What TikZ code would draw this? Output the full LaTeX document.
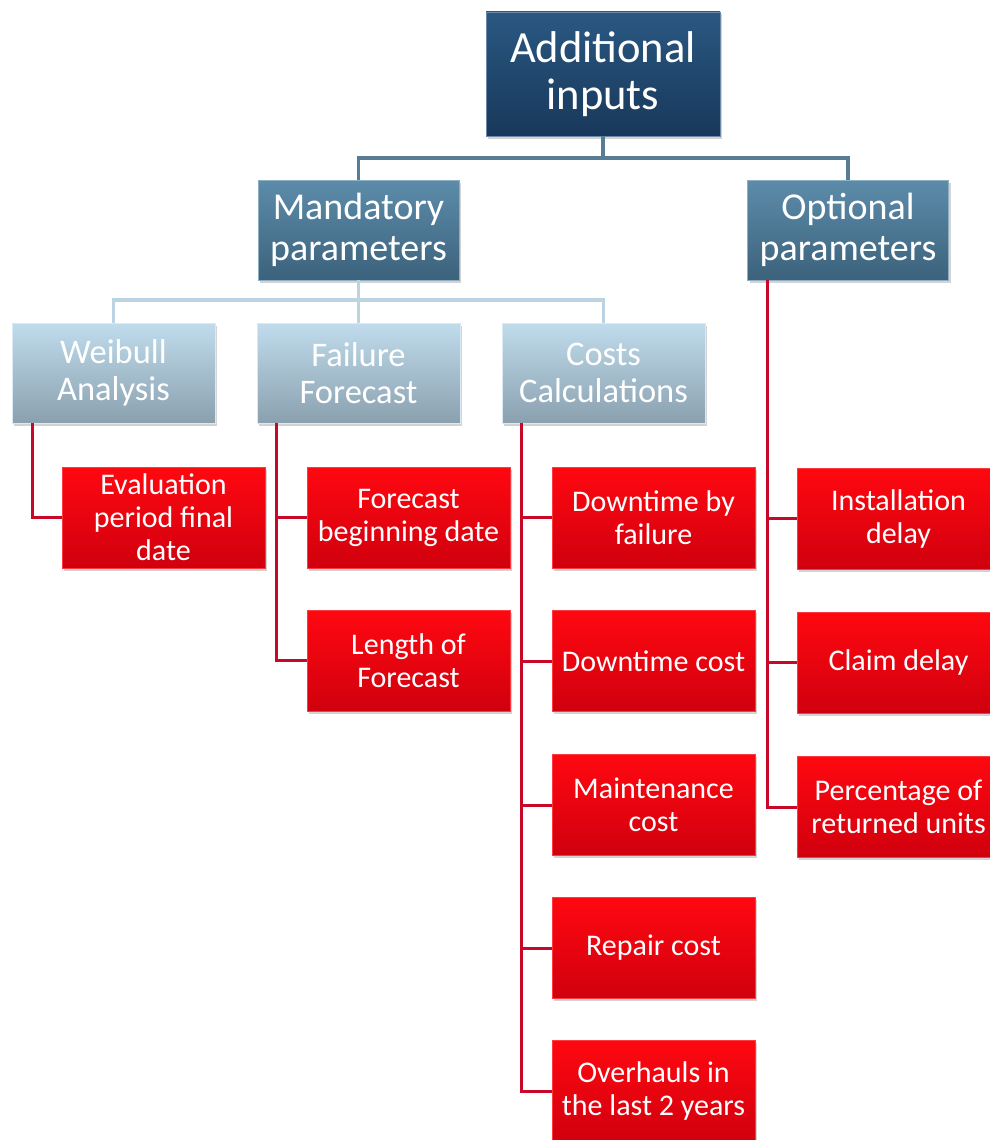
\documentclass[tikz,border=0pt]{standalone}
\usepackage{fontspec}
\setmainfont{Carlito}
\usetikzlibrary{shadows}
\definecolor{topA}{RGB}{42,88,130}
\definecolor{topB}{RGB}{24,56,90}
\definecolor{midA}{RGB}{92,140,170}
\definecolor{midB}{RGB}{60,98,124}
\definecolor{lowA}{RGB}{192,220,236}
\definecolor{lowB}{RGB}{138,160,175}
\definecolor{redA}{RGB}{255,8,16}
\definecolor{redM}{RGB}{245,0,14}
\definecolor{redB}{RGB}{208,0,14}
\definecolor{lnTop}{RGB}{88,124,148}
\definecolor{lnLow}{RGB}{188,212,226}
\definecolor{lnRed}{RGB}{200,8,40}
\tikzset{
  basebox/.style={rectangle, align=center, text=white, inner sep=0pt,
    drop shadow={shadow xshift=2pt, shadow yshift=-2.5pt, opacity=0.35}},
  topbox/.style={basebox, top color=topA, bottom color=topB, draw=topA!70!white, line width=0.8pt,
    minimum width=234pt, minimum height=124pt, font=\fontsize{44.5}{47}\selectfont},
  midbox/.style={basebox, top color=midA, bottom color=midB, draw=midA!70!white, line width=0.8pt,
    minimum width=201pt, minimum height=100pt, font=\fontsize{38}{41}\selectfont},
  lowbox/.style={basebox, top color=lowA, bottom color=lowB, draw=lowA!60!white, line width=0.8pt,
    minimum width=203pt, minimum height=100pt, font=\fontsize{34.5}{37}\selectfont},
  redbox/.style={basebox, top color=redA, middle color=redM, bottom color=redB, draw=redA!80!white, line width=0.6pt,
    minimum width=203pt, minimum height=101pt, font=\fontsize{30}{33}\selectfont},
  toplink/.style={draw=lnTop, line width=3.5pt},
  lowlink/.style={draw=lnLow, line width=3.5pt},
  redlink/.style={draw=lnRed, line width=3pt},
}
\begin{document}
\begin{tikzpicture}[x=1pt,y=-1pt]
\useasboundingbox (0,0) rectangle (990,1140);
\clip (0,0) rectangle (990,1140);
\coordinate (j1) at (603,158);
\coordinate (j2) at (358.5,300);
% nodes
\node[topbox] (top) at (603,74) {Additional\\inputs};
\node[midbox] (mand) at (358.5,230) {Mandatory\\parameters};
\node[midbox] (opt) at (848,230) {Optional\\parameters};
\node[lowbox] (weib) at (113.5,373) {Weibull\\Analysis};
\node[lowbox] (fail) at (358.5,373) {Failure\\Forecast};
\node[lowbox] (cost) at (603.5,373) {Costs\\Calculations};
\node[redbox] (eval) at (163.5,517.5) {Evaluation\\period final\\date};
\node[redbox] (fbeg) at (408.5,517.5) {Forecast\\beginning date};
\node[redbox] (flen) at (408.5,660.5) {Length of\\Forecast};
\node[redbox] (dfail) at (653.5,517.5) {Downtime by\\failure};
\node[redbox] (dcost) at (653.5,661) {Downtime cost};
\node[redbox] (mcost) at (653.5,805) {Maintenance\\cost};
\node[redbox] (rcost) at (653.5,948) {Repair cost};
\node[redbox] (over) at (653.5,1091) {Overhauls in\\the last 2 years};
\node[redbox] (inst) at (898.5,518.5) {Installation\\delay};
\node[redbox] (claim) at (898.5,662.5) {Claim delay};
\node[redbox] (perc) at (898.5,807) {Percentage of\\returned units};
% links
\draw[toplink] (top.south) -- (j1);
\draw[toplink] (j1) -| (mand.north);
\draw[toplink] (j1) -| (opt.north);
\draw[lowlink] (mand.south) -- (j2);
\draw[lowlink] (j2) -| (weib.north);
\draw[lowlink] (j2) -| (fail.north);
\draw[lowlink] (j2) -| (cost.north);
\draw[redlink] ([xshift=21pt]weib.south west) |- (eval.west);
\draw[redlink] ([xshift=20pt]fail.south west) |- (fbeg.west);
\draw[redlink] ([xshift=20pt]fail.south west) |- (flen.west);
\draw[redlink] ([xshift=20pt]cost.south west) |- (dfail.west);
\draw[redlink] ([xshift=20pt]cost.south west) |- (dcost.west);
\draw[redlink] ([xshift=20pt]cost.south west) |- (mcost.west);
\draw[redlink] ([xshift=20pt]cost.south west) |- (rcost.west);
\draw[redlink] ([xshift=20pt]cost.south west) |- (over.west);
\draw[redlink] ([xshift=20pt]opt.south west) |- (inst.west);
\draw[redlink] ([xshift=20pt]opt.south west) |- (claim.west);
\draw[redlink] ([xshift=20pt]opt.south west) |- (perc.west);
\end{tikzpicture}
\end{document}
